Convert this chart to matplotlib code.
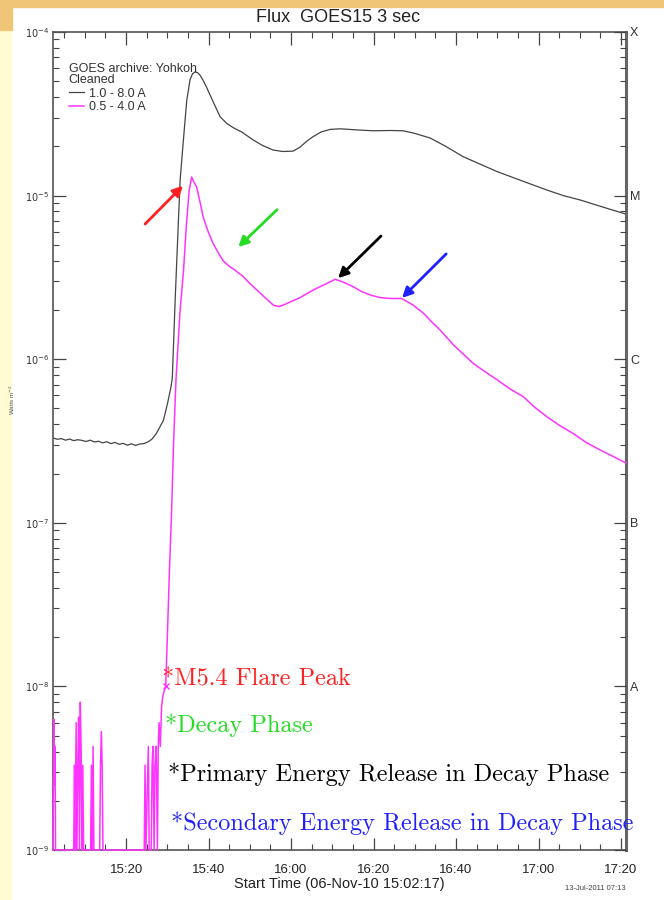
import matplotlib
matplotlib.use("Agg")
import matplotlib.pyplot as plt
from matplotlib.patches import Rectangle
from matplotlib.ticker import FixedLocator, MultipleLocator, FuncFormatter, LogLocator, NullFormatter

# minutes after 15:00 UT, 06-Nov-2010
t_long = [2.3, 3.3, 4.3, 5.3, 6.3, 7.3, 8.3, 9.3, 10.3, 11.3, 12.3, 13.3,
          14.3, 15.3, 16.3, 17.3, 18.3, 19.3, 20.3, 21.3, 22.3, 23.3, 24.3, 25.3,
          26.3, 27.3, 28.3, 29.0, 29.6, 30.2, 30.8, 31.2, 31.9, 32.6, 33.1, 33.9,
          34.7, 35.5, 36.1, 36.7, 37.3, 37.9, 38.7, 39.5, 41.1, 42.8, 44.5, 46.0,
          48.0, 50.8, 53.0, 55.6, 58.0, 60.5, 62.2, 63.8, 65.3, 67.3, 69.5, 72.0,
          76.0, 80.0, 84.0, 87.2, 90.0, 93.7, 97.5, 101.7, 106.0, 110.0, 116.0,
          122.1, 126.0, 130.1, 135.0, 140.5, 141.2]
f_long = [3.30e-7, 3.24e-7, 3.27e-7, 3.20e-7, 3.25e-7, 3.18e-7, 3.22e-7, 3.19e-7,
          3.14e-7, 3.20e-7, 3.12e-7, 3.15e-7, 3.08e-7, 3.13e-7, 3.05e-7, 3.10e-7,
          3.02e-7, 3.06e-7, 2.98e-7, 3.04e-7, 2.97e-7, 3.03e-7, 3.05e-7, 3.12e-7,
          3.25e-7, 3.50e-7, 3.90e-7, 4.20e-7, 4.80e-7, 5.60e-7, 6.60e-7, 7.60e-7,
          2.3e-6, 6.2e-6, 1.24e-5, 2.19e-5, 3.8e-5, 5.1e-5, 5.55e-5, 5.7e-5,
          5.65e-5, 5.46e-5, 5.05e-5, 4.6e-5, 3.75e-5, 3.03e-5, 2.75e-5, 2.6e-5,
          2.45e-5, 2.19e-5, 2.03e-5, 1.9e-5, 1.86e-5, 1.87e-5, 1.98e-5, 2.15e-5,
          2.29e-5, 2.45e-5, 2.54e-5, 2.56e-5, 2.52e-5, 2.49e-5, 2.5e-5, 2.49e-5,
          2.4e-5, 2.25e-5, 2.0e-5, 1.73e-5, 1.55e-5, 1.40e-5, 1.23e-5, 1.08e-5,
          1.0e-5, 9.4e-6, 8.6e-6, 7.8e-6, 7.7e-6]

t_short = [2.3, 2.5, 2.6, 2.8, 2.9, 3.1, 7.3, 7.5, 7.6, 7.9, 8.0, 8.3, 8.5, 8.7,
           8.9, 9.1, 9.3, 9.5, 9.7, 11.4, 11.6, 11.8, 12.0, 12.2, 13.6, 13.8,
           14.0, 14.2, 14.4, 24.4, 24.6, 24.8, 25.4, 25.6, 26.1, 26.3, 26.5, 26.8,
           27.0, 27.3, 27.6, 27.8, 28.0, 28.3, 28.6, 28.9, 29.3, 29.6, 30.0, 30.5,
           31.0, 31.5, 32.1, 33.1, 33.9, 34.6, 35.3, 35.9, 36.5, 37.1, 37.9, 38.7,
           39.8, 41.1, 42.3, 43.5, 45.0, 46.4, 48.4, 50.0, 51.7, 53.7, 55.7, 57.0,
           58.1, 60.0, 62.2, 65.4, 68.0, 70.7, 72.8, 75.1, 77.0, 79.2, 81.6, 84.0,
           86.8, 89.5, 92.1, 94.0, 96.1, 99.4, 102.0, 104.2, 107.0, 109.9, 113.0,
           116.3, 119.0, 122.0, 125.0, 128.5, 131.5, 134.9, 138.0, 140.6, 141.2]
f_short = [1e-9, 6.3e-9, 2.5e-9, 4.3e-9, 1e-9, 1e-9, 1e-9, 3.3e-9, 1e-9, 6.0e-9,
           1e-9, 3.3e-9, 6.5e-9, 1e-9, 8.0e-9, 4.3e-9, 1e-9, 3.3e-9, 1e-9, 1e-9,
           3.3e-9, 1e-9, 4.3e-9, 1e-9, 1e-9, 3.3e-9, 5.3e-9, 3.3e-9, 1e-9, 1e-9,
           3.3e-9, 1e-9, 4.3e-9, 1e-9, 1e-9, 3.3e-9, 4.3e-9, 1e-9, 3.3e-9, 4.3e-9,
           1e-9, 4.3e-9, 6.0e-9, 4.3e-9, 7.5e-9, 8.7e-9, 9.5e-9, 1.0e-8, 2.0e-8,
           5.0e-8, 1.1e-7, 3.0e-7, 7.5e-7, 2.0e-6, 3.4e-6, 6.5e-6, 1.08e-5, 1.3e-5,
           1.2e-5, 1.13e-5, 9.2e-6, 7.4e-6, 6.1e-6, 5.1e-6, 4.5e-6, 4.0e-6, 3.7e-6,
           3.5e-6, 3.2e-6, 2.9e-6, 2.65e-6, 2.38e-6, 2.14e-6, 2.1e-6, 2.14e-6,
           2.25e-6, 2.38e-6, 2.65e-6, 2.85e-6, 3.08e-6, 2.95e-6, 2.77e-6, 2.6e-6,
           2.47e-6, 2.38e-6, 2.35e-6, 2.35e-6, 2.15e-6, 1.91e-6, 1.7e-6, 1.51e-6,
           1.22e-6, 1.06e-6, 9.4e-7, 8.4e-7, 7.5e-7, 6.6e-7, 5.9e-7, 5.1e-7,
           4.45e-7, 3.95e-7, 3.5e-7, 3.1e-7, 2.79e-7, 2.55e-7, 2.36e-7, 2.33e-7]

start_mark = (29.6, 1.0e-8)

# event arrows: tail -> tip
arrow_colors = ["#ff2020", "#22dd22", "black", "#2020ff"]
arrow_tail_t = [24.6, 56.6, 81.8, 97.6]
arrow_tail_f = [6.7e-6, 8.2e-6, 5.66e-6, 4.4e-6]
arrow_tip_t = [33.8, 47.2, 71.4, 86.9]
arrow_tip_f = [1.15e-5, 4.85e-6, 3.13e-6, 2.37e-6]

notes = ["*M5.4 Flare Peak", "*Decay Phase",
         "*Primary Energy Release in Decay Phase",
         "*Secondary Energy Release in Decay Phase"]
note_x = [0.190, 0.195, 0.201, 0.206]
note_y = [0.209, 0.153, 0.092, 0.033]

decades = [1e-9, 1e-8, 1e-7, 1e-6, 1e-5, 1e-4]
decade_labels = ["$10^{-9}$", "$10^{-8}$", "$10^{-7}$", "$10^{-6}$", "$10^{-5}$", "$10^{-4}$"]
goes_classes = ["", "A", "B", "C", "M", "X"]

plt.rcParams['font.family'] = ['Liberation Sans', 'DejaVu Sans']

W, H = 664, 900
fig = plt.figure(figsize=(W / 100, H / 100), dpi=100)

# slide background around the chart
fig.patches.append(Rectangle((0, 0), 1, 1, transform=fig.transFigure,
                             color="#fffbd2", zorder=-10))
fig.patches.append(Rectangle((12 / W, 0), 1, 1 - 7 / H, transform=fig.transFigure,
                             color="white", zorder=-9))
fig.patches.append(Rectangle((0, 1 - 7 / H), 1, 7 / H, transform=fig.transFigure,
                             color="#f0c578", zorder=-8))
fig.patches.append(Rectangle((0, 1 - 30 / H), 12 / W, 30 / H, transform=fig.transFigure,
                             color="#f0c578", zorder=-8))

ax = fig.add_axes([53 / W, 50 / H, 573 / W, 818 / H])
ax.set_yscale("log")
ax.set_ylim(1e-9, 1e-4)
ax.set_xlim(2.283, 141.2)

ax.plot(t_long, f_long, color="#444444", lw=0.9, label="1.0 - 8.0 A")
ax.plot(t_short, f_short, color="#ff33ff", lw=1.1, label="0.5 - 4.0 A",
        clip_on=False, zorder=3)
ax.plot(*start_mark, marker="x", color="#ff33ff", ms=5, mew=1)

for c, xt, yt, xh, yh in zip(arrow_colors, arrow_tail_t, arrow_tail_f,
                             arrow_tip_t, arrow_tip_f):
  ax.annotate("", xy=(xh, yh), xytext=(xt, yt),
              arrowprops=dict(arrowstyle="-|>", color=c, lw=2.0,
                              mutation_scale=15, shrinkA=0, shrinkB=0))

for s, c, x, y in zip(notes, arrow_colors, note_x, note_y):
  ax.text(x, y, s, color=c, family="cmr10", fontsize=17.5,
          transform=ax.transAxes, ha="left", va="center", clip_on=False,
          zorder=5)

leg = ax.legend(loc="upper left", bbox_to_anchor=(0.012, 0.973), frameon=False,
                title="GOES archive: Yohkoh\nCleaned", alignment="left",
                fontsize=9, title_fontsize=9, handlelength=1.2,
                handletextpad=0.4, labelspacing=0.1, borderpad=0.2)
leg.get_title().set_color("#333333")
leg.get_title().set_linespacing(0.95)
for txt in leg.get_texts():
  txt.set_color("#333333")

# axes cosmetics
for side in ["left", "bottom", "top"]:
  ax.spines[side].set_color("#555555")
  ax.spines[side].set_linewidth(1.2)
ax.spines["right"].set_color("#666666")
ax.spines["right"].set_linewidth(2.2)

ax.xaxis.set_major_locator(FixedLocator([20, 40, 60, 80, 100, 120, 140]))
ax.xaxis.set_minor_locator(MultipleLocator(5))
ax.xaxis.set_major_formatter(FuncFormatter(
    lambda v, p: "%d:%02d" % (15 + int(v) // 60, int(v) % 60)))
ax.yaxis.set_major_locator(FixedLocator(decades))
ax.set_yticklabels(decade_labels)
ax.yaxis.set_minor_locator(LogLocator(base=10, subs=range(2, 10)))
ax.yaxis.set_minor_formatter(NullFormatter())
ax.tick_params(which="both", direction="in", top=True, right=False,
               color="#444444")
ax.tick_params(which="major", length=9, width=0.9)
ax.tick_params(which="minor", length=4, width=0.8)
ax.tick_params(axis="x", labelsize=9.5, pad=10, labelcolor="#222222")
ax.tick_params(axis="y", labelsize=7, pad=3, labelcolor="#333333")

ax2 = ax.twinx()
ax2.set_yscale("log")
ax2.set_ylim(1e-9, 1e-4)
ax2.yaxis.set_major_locator(FixedLocator(decades))
ax2.set_yticklabels(goes_classes)
ax2.yaxis.set_minor_locator(LogLocator(base=10, subs=range(2, 10)))
ax2.yaxis.set_minor_formatter(NullFormatter())
ax2.tick_params(which="both", direction="in", color="#444444")
ax2.tick_params(which="major", length=9, width=0.9, labelsize=9, pad=3,
                labelcolor="#333333")
ax2.tick_params(which="minor", length=4, width=0.8)
for sp in ax2.spines.values():
  sp.set_visible(False)

fig.text(338 / W, 1 - 17 / H, "Flux  GOES15 3 sec", ha="center", va="center",
         fontsize=13, color="#222222")
fig.text(339 / W, 1 - 884 / H, "Start Time (06-Nov-10 15:02:17)", ha="center",
         va="center", fontsize=10.5, color="#222222")
fig.text(595 / W, 1 - 888 / H, "13-Jul-2011 07:13", ha="center", va="center",
         fontsize=5.5, color="#444444")
fig.text(12 / W, 1 - 400 / H, "Watts m$^{-2}$", rotation=90, ha="center",
         va="center", fontsize=4.5, color="#555555")

fig.savefig("out.png", dpi=100)
